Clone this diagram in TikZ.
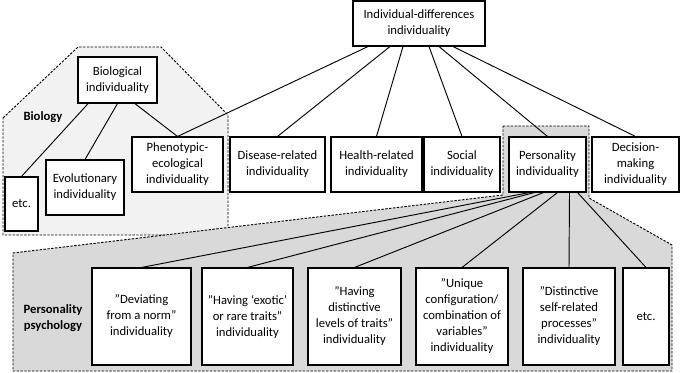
\documentclass[tikz,border=0pt]{standalone}
\usepackage{fontspec}
\setmainfont{Carlito}

\begin{document}
\begin{tikzpicture}[x=0.75pt, y=-0.75pt,
        box/.style={draw, line width=0.8pt, fill=white, align=center, inner sep=1pt,
            font=\fontsize{9.5}{12}\selectfont},
        rowbox/.style={box, minimum height=41.25pt},
        psybox/.style={box, minimum height=72.75pt},
        region/.style={draw, dash pattern=on 1.8pt off 1.1pt, line width=0.7pt},
        link/.style={line width=0.7pt},
        tag/.style={font=\fontsize{9.5}{12}\selectfont\bfseries, align=center}]
    \useasboundingbox (0,0) rectangle (680,373);

    % shaded areas
    \filldraw[region, fill=black!5] (3,118) -- (78,47) -- (161,47) -- (228,115) -- (228,235) -- (3,235) -- cycle;
    \filldraw[region, fill=black!15] (503,126) -- (589,126) -- (589,198) -- (672,245) -- (672,371)
        -- (13,371) -- (13,253) -- (503,195) -- cycle;

    % area labels
    \node[tag] (biolabel) at (43,117) {Biology};
    \node[tag] (psylabel) at (53,318) {Personality\\psychology};

    % top and biology boxes
    \node[box, minimum width=99pt, minimum height=33.75pt] (top) at (419,23.5) {Individual-differences\\individuality};
    \node[box, minimum width=59.25pt, minimum height=34.5pt] (bio) at (117.5,80) {Biological\\individuality};
    \node[box, minimum width=58.5pt, minimum height=41.25pt] (evo) at (85,187.5) {Evolutionary\\individuality};
    \node[box, minimum width=24.75pt, minimum height=40.5pt] (bioetc) at (21.5,204) {etc.};

    % middle row
    \node[rowbox, minimum width=68.25pt] (phen) at (177.5,164.5) {Phenotypic-\\ecological\\individuality};
    \node[rowbox, minimum width=71.25pt] (dis) at (277.5,164.5) {Disease-related\\individuality};
    \node[rowbox, minimum width=68.25pt] (hea) at (376.5,164.5) {Health-related\\individuality};
    \node[rowbox, minimum width=57pt] (soc) at (462,164.5) {Social\\individuality};
    \node[rowbox, minimum width=57.75pt] (pers) at (547.5,164.5) {Personality\\individuality};
    \node[rowbox, minimum width=65.25pt] (dec) at (635.5,164.5) {Decision-\\making\\individuality};

    % personality psychology row
    \node[psybox, minimum width=74.25pt] (norm) at (141.5,316.5) {''Deviating\\from a norm''\\individuality};
    \node[psybox, minimum width=68.25pt] (exotic) at (247.5,316.5) {''Having `exotic'\\or rare traits''\\individuality};
    \node[psybox, minimum width=69.75pt] (levels) at (354.5,316.5) {''Having\\distinctive\\levels of traits''\\individuality};
    \node[psybox, minimum width=69pt] (config) at (462,316.5) {''Unique\\configuration/\\combination of\\variables''\\individuality};
    \node[psybox, minimum width=69pt] (self) at (569,316.5) {''Distinctive\\self-related\\processes''\\individuality};
    \node[psybox, minimum width=34.5pt] (psyetc) at (646,316.5) {etc.};

    % connectors
    \foreach \n/\s in {phen/-38.25pt, dis/-21.75pt, hea/-12pt, soc/7.5pt, pers/15pt, dec/25.5pt}
        \draw[link] ([xshift=\s]top.south) -- (\n.north);
    \foreach \n/\s in {bioetc/-22pt, evo/0pt, phen/13pt}
        \draw[link] ([xshift=\s]bio.south) -- (\n.north);
    \foreach \n/\s in {norm/-13.5pt, exotic/-9.75pt, levels/-3pt, config/7.5pt, self/16.5pt, psyetc/22.5pt}
        \draw[link] ([xshift=\s]pers.south) -- (\n.north);
\end{tikzpicture}
\end{document}
